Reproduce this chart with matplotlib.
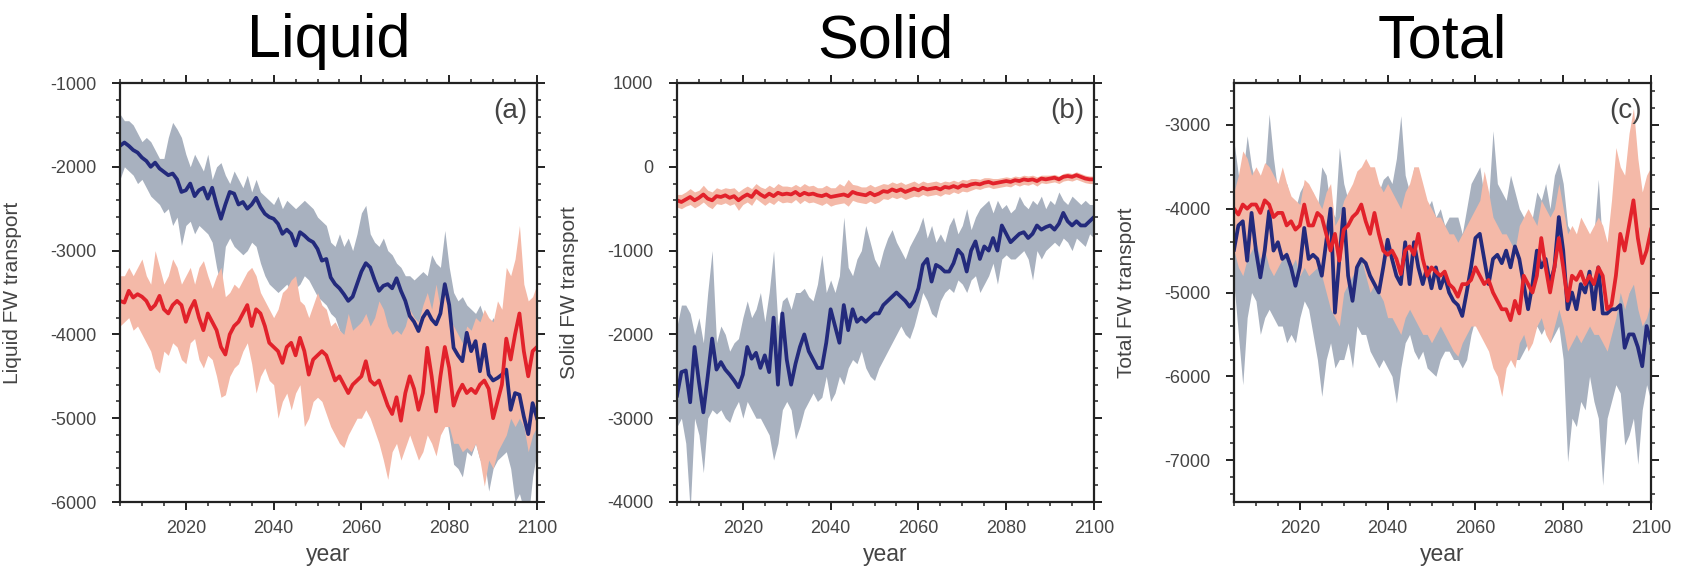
import numpy as np
import matplotlib
matplotlib.use('Agg')
import matplotlib.pyplot as plt
from matplotlib.ticker import MultipleLocator

plt.rcParams['font.family'] = ['Liberation Sans', 'DejaVu Sans']
plt.rcParams['axes.unicode_minus'] = False

# years 2005..2100, one value per year
years = np.arange(2005, 2101)

# ---- (a) Liquid FW transport ----
a_blue_mean = [-1750, -1710, -1750, -1800, -1830,
               -1890, -1930, -2000, -1950, -2020,
               -2060, -2100, -2080, -2150, -2300,
               -2280, -2200, -2350, -2280, -2250,
               -2380, -2250, -2450, -2620, -2450,
               -2300, -2320, -2450, -2420, -2500,
               -2450, -2370, -2480, -2560, -2600,
               -2620, -2680, -2800, -2750, -2800,
               -2940, -2780, -2820, -2870, -2900,
               -2980, -3120, -3100, -3320, -3400,
               -3450, -3520, -3600, -3550, -3400,
               -3250, -3150, -3200, -3350, -3480,
               -3420, -3400, -3450, -3330, -3480,
               -3600, -3780, -3850, -3960, -3800,
               -3720, -3820, -3880, -3750, -3400,
               -3650, -4160, -4250, -4320, -3980,
               -4200, -4080, -4440, -4120, -4480,
               -4550, -4520, -4480, -4420, -4900,
               -4700, -4720, -4980, -5190, -4820,
               -5000]
a_blue_hi = [-1370, -1450, -1450, -1500, -1600,
             -1700, -1650, -1700, -1800, -1900,
             -1900, -1650, -1470, -1550, -1650,
             -1850, -2000, -1850, -1950, -2050,
             -1850, -2150, -2000, -1950, -2100,
             -2200, -2050, -2150, -2250, -2100,
             -2300, -2150, -2300, -2350, -2400,
             -2450, -2350, -2500, -2400, -2450,
             -2500, -2450, -2400, -2450, -2500,
             -2600, -2650, -2700, -2900, -2950,
             -2800, -2950, -2850, -3000, -2800,
             -2550, -2460, -2800, -2900, -2950,
             -2850, -3000, -3050, -3150, -3200,
             -3300, -3300, -3350, -3300, -3250,
             -3300, -3050, -3150, -3200, -2760,
             -3200, -3500, -3600, -3550, -3650,
             -3700, -3750, -3650, -3800, -3900,
             -3800, -3900, -4000, -4100, -4200,
             -4250, -4300, -4200, -4350, -4400,
             -4500]
a_blue_lo = [-2150, -2000, -2050, -2100, -2200,
             -2150, -2250, -2350, -2400, -2450,
             -2550, -2500, -2700, -2600, -2940,
             -2700, -2650, -2800, -2700, -2750,
             -2800, -2900, -3200, -3440, -2950,
             -2850, -2950, -3000, -3050, -3000,
             -2900, -2950, -3150, -3300, -3400,
             -3450, -3500, -3450, -3400, -3500,
             -3450, -3400, -3300, -3350, -3450,
             -3550, -3600, -3650, -3750, -3800,
             -3950, -4040, -4100, -4000, -3950,
             -3850, -3950, -4000, -4150, -4100,
             -4200, -4250, -4300, -4250, -4300,
             -4450, -4500, -4550, -4600, -4700,
             -4550, -4700, -4800, -4900, -4900,
             -5200, -5550, -5600, -5700, -5400,
             -5450, -5300, -5500, -5500, -5870,
             -5600, -5500, -5450, -5400, -5600,
             -6000, -5900, -6100, -6200, -5700,
             -5400]
a_red_mean = [-3600, -3620, -3480, -3560, -3520,
              -3550, -3600, -3700, -3650, -3540,
              -3700, -3750, -3650, -3600, -3650,
              -3850, -3700, -3600, -3800, -3950,
              -3750, -3850, -3950, -4150, -4240,
              -4000, -3900, -3850, -3750, -3650,
              -3900, -3700, -3750, -3900, -4100,
              -4150, -4200, -4340, -4150, -4100,
              -4250, -4040, -4200, -4480, -4300,
              -4250, -4200, -4250, -4400, -4550,
              -4500, -4600, -4700, -4600, -4550,
              -4500, -4320, -4550, -4600, -4550,
              -4700, -4850, -4950, -4750, -5030,
              -4700, -4500, -4650, -4900, -4700,
              -4160, -4500, -4920, -4500, -4150,
              -4400, -4850, -4700, -4600, -4700,
              -4650, -4700, -4600, -4550, -4650,
              -5000, -4800, -4600, -4050, -4300,
              -4000, -3750, -4200, -4500, -4200,
              -4150]
a_red_hi = [-3300, -3300, -3200, -3300, -3200,
            -3100, -3300, -3400, -3000, -3200,
            -3400, -3300, -3100, -3200, -3400,
            -3300, -3200, -3400, -3200, -3120,
            -3300, -3450, -3300, -3200, -3550,
            -3500, -3400, -3450, -3350, -3250,
            -3200, -3300, -3500, -3600, -3700,
            -3800, -3700, -3500, -3450, -3350,
            -3300, -3600, -3650, -3800, -3650,
            -3500, -3650, -3700, -3900, -3850,
            -3950, -4000, -3750, -3950, -3900,
            -3850, -3750, -3900, -3800, -3600,
            -3700, -3900, -4000, -3950, -4000,
            -3900, -3700, -3800, -3850, -3650,
            -3500, -3700, -3400, -3700, -3500,
            -3800, -3900, -4000, -4100, -3900,
            -3950, -3800, -3850, -3700, -3800,
            -3850, -3600, -3700, -3200, -3300,
            -3100, -2700, -3400, -3600, -3550,
            -3400]
a_red_lo = [-3900, -3850, -3800, -3950, -3900,
            -4000, -4100, -4200, -4400, -4460,
            -4200, -4250, -4100, -4150, -4300,
            -4350, -4100, -4050, -4300, -4400,
            -4250, -4300, -4500, -4750, -4720,
            -4500, -4400, -4350, -4200, -4100,
            -4350, -4700, -4500, -4400, -4550,
            -4600, -5000, -4800, -4700, -4900,
            -4700, -4600, -5100, -5000, -4800,
            -4750, -4800, -4950, -5100, -5200,
            -5300, -5350, -5200, -5100, -5000,
            -5000, -4900, -5000, -5150, -5300,
            -5500, -5730, -5400, -5300, -5500,
            -5350, -5200, -5350, -5500, -5400,
            -5200, -5300, -5450, -5200, -5100,
            -5100, -5300, -5300, -5400, -5350,
            -5400, -5300, -5500, -5810, -5500,
            -5600, -5400, -5300, -5200, -5000,
            -5100, -5000, -5100, -5400, -5200,
            -5100]

# ---- (b) Solid FW transport ----
b_blue_mean = [-2730, -2450, -2430, -2810, -2150,
               -2570, -2930, -2500, -2050, -2420,
               -2330, -2420, -2480, -2550, -2630,
               -2480, -2150, -2290, -2220, -2400,
               -2250, -2450, -1800, -2600, -1750,
               -2300, -2600, -2350, -2150, -2000,
               -2200, -2300, -2400, -2400, -2100,
               -1700, -1900, -2100, -1650, -1950,
               -1700, -1850, -1800, -1850, -1800,
               -1750, -1750, -1650, -1600, -1550,
               -1500, -1550, -1600, -1670, -1600,
               -1450, -1170, -1100, -1370, -1170,
               -1200, -1250, -1250, -1150, -990,
               -1050, -1250, -1000, -890, -1100,
               -950, -1000, -850, -1000, -700,
               -800, -900, -850, -800, -780,
               -850, -800, -700, -750, -720,
               -700, -750, -680, -550, -650,
               -700, -650, -700, -700, -650,
               -600]
b_blue_hi = [-1900, -1650, -1650, -1750, -2000,
             -1800, -2100, -1500, -1000, -2100,
             -1900, -2000, -2200, -2100, -2050,
             -1800, -1600, -1800, -1700, -1500,
             -1850, -1500, -1000, -1900, -1600,
             -1550, -1700, -1500, -1500, -1450,
             -1550, -1600, -1400, -1050, -1500,
             -1350, -1500, -1300, -600, -1200,
             -1300, -1100, -1000, -700, -900,
             -1100, -1200, -1000, -850, -750,
             -900, -1000, -1100, -950, -850,
             -750, -600, -850, -700, -900,
             -800, -900, -700, -600, -800,
             -700, -500, -750, -600, -500,
             -450, -400, -550, -400, -500,
             -450, -550, -500, -350, -450,
             -500, -400, -450, -350, -500,
             -400, -450, -300, -400, -450,
             -350, -400, -450, -400, -450,
             -450]
b_blue_lo = [-3100, -3000, -3300, -4100, -3000,
             -3200, -3650, -3000, -2900, -2950,
             -2900, -3000, -3050, -2900, -2800,
             -3000, -2800, -2900, -3000, -3000,
             -3100, -3200, -3500, -3300, -2900,
             -2800, -2900, -3250, -3100, -2900,
             -2800, -2700, -2800, -2750, -2500,
             -2800, -2700, -2500, -2600, -2400,
             -2300, -2350, -2200, -2400, -2500,
             -2550, -2400, -2300, -2200, -2100,
             -2000, -1900, -2000, -2050, -1900,
             -1700, -1500, -1600, -1750, -1800,
             -1600, -1500, -1450, -1500, -1350,
             -1400, -1500, -1350, -1300, -1500,
             -1400, -1300, -1150, -1400, -1100,
             -1050, -1100, -1100, -1050, -1000,
             -1100, -1350, -1000, -1100, -1000,
             -950, -900, -950, -850, -900,
             -1000, -850, -900, -950, -800,
             -850]
b_red_mean = [-400, -420, -390, -360, -400,
              -370, -330, -380, -400, -350,
              -360, -340, -370, -350, -400,
              -360, -330, -360, -290, -330,
              -360, -320, -350, -310, -330,
              -320, -330, -300, -340, -310,
              -330, -320, -340, -350, -330,
              -360, -350, -340, -330, -350,
              -300, -320, -330, -340, -310,
              -340, -320, -290, -300, -270,
              -290, -270, -300, -280, -260,
              -280, -250, -270, -260, -250,
              -270, -240, -250, -230, -250,
              -220, -230, -210, -200, -210,
              -190, -180, -200, -190, -180,
              -170, -180, -160, -170, -150,
              -160, -150, -170, -140, -150,
              -140, -130, -150, -120, -110,
              -120, -100, -120, -140, -150,
              -150]
b_red_hi = [-330, -330, -300, -260, -300,
            -280, -220, -280, -300, -250,
            -270, -250, -260, -250, -300,
            -260, -230, -260, -200, -240,
            -260, -220, -250, -200, -230,
            -230, -240, -210, -240, -200,
            -230, -220, -250, -250, -220,
            -250, -250, -200, -230, -150,
            -210, -220, -240, -240, -210,
            -240, -220, -200, -210, -180,
            -200, -180, -210, -190, -170,
            -200, -170, -190, -180, -170,
            -190, -170, -180, -160, -180,
            -150, -160, -140, -140, -150,
            -130, -130, -140, -140, -130,
            -120, -130, -110, -120, -100,
            -110, -100, -120, -100, -100,
            -100, -90, -110, -80, -70,
            -80, -60, -80, -100, -110,
            -110]
b_red_lo = [-480, -500, -470, -450, -490,
            -460, -420, -470, -500, -440,
            -450, -430, -460, -440, -520,
            -450, -420, -460, -380, -420,
            -460, -420, -450, -400, -430,
            -420, -430, -390, -440, -400,
            -430, -420, -440, -460, -430,
            -470, -450, -440, -430, -470,
            -400, -420, -430, -440, -410,
            -440, -420, -380, -390, -360,
            -380, -360, -390, -370, -350,
            -360, -330, -350, -340, -330,
            -350, -320, -330, -300, -320,
            -290, -300, -280, -260, -270,
            -250, -240, -260, -250, -240,
            -230, -240, -210, -230, -210,
            -220, -200, -230, -190, -200,
            -190, -180, -200, -170, -160,
            -170, -150, -170, -190, -200,
            -200]

# ---- (c) Total FW transport ----
c_blue_mean = [-4490, -4200, -4150, -4620, -4050,
               -4500, -4820, -4500, -4030, -4500,
               -4400, -4600, -4550, -4700, -4920,
               -4700, -4230, -4600, -4550, -4600,
               -4800, -4400, -4000, -5240, -4600,
               -4000, -4800, -5100, -4700, -4600,
               -4650, -4800, -4900, -5000, -4700,
               -4370, -4600, -4800, -4900, -4400,
               -4900, -4400, -4700, -4900, -4700,
               -4950, -4700, -4950, -4800, -5000,
               -5100, -5150, -5280, -5000, -4700,
               -4350, -4300, -4600, -4900, -4600,
               -4550, -4650, -4500, -4700, -4450,
               -4600, -4900, -5200, -4900, -4500,
               -4700, -4600, -4900, -4700, -4100,
               -4500, -5200, -5000, -5200, -4900,
               -5000, -4750, -5200, -4700, -5250,
               -5250, -5200, -5200, -5150, -5660,
               -5500, -5500, -5650, -5880, -5400,
               -5600]
c_blue_hi = [-3200, -3600, -3600, -3130, -3500,
             -3700, -3800, -3600, -2870, -3400,
             -3800, -3800, -3700, -3900, -4000,
             -3800, -3700, -3900, -3800, -4000,
             -3500, -3600, -4000, -4100, -3270,
             -3700, -3900, -4000, -3800, -3700,
             -3700, -3600, -3900, -3800, -3650,
             -3600, -3700, -3400, -2890, -3600,
             -3800, -3500, -3600, -3900, -4000,
             -3900, -4100, -4000, -4200, -4100,
             -4100, -4100, -4300, -4000, -3700,
             -3600, -3500, -3850, -3900, -3070,
             -3700, -3800, -3900, -3600, -3800,
             -4000, -4100, -4300, -4100, -3800,
             -3900, -3700, -4000, -3600, -3450,
             -3700, -4200, -4300, -4400, -4300,
             -4200, -4500, -4300, -3650, -4500,
             -4700, -4600, -4500, -4700, -4900,
             -5000, -4800, -4900, -4900, -5000,
             -5100]
c_blue_lo = [-4900, -5500, -6100, -5300, -5000,
             -5100, -5500, -5300, -5200, -5300,
             -5400, -5400, -5600, -5500, -5600,
             -5300, -5100, -5200, -5500, -5800,
             -6240, -5800, -5600, -5900, -5800,
             -5800, -5600, -5900, -5400, -5500,
             -5500, -5700, -5800, -5900, -5800,
             -5900, -6000, -6320, -5900, -5600,
             -5500, -5700, -5800, -5700, -5900,
             -5950, -6000, -5800, -5700, -5700,
             -5800, -5800, -5900, -5800, -5500,
             -5300, -5200, -5400, -5600, -5500,
             -5600, -5800, -5700, -5700, -5800,
             -5800, -5700, -5600, -5500, -5400,
             -5500, -5400, -5600, -5500, -5400,
             -5800, -7020, -6500, -6600, -6300,
             -6400, -6000, -6300, -6500, -7300,
             -6500, -6300, -6100, -6200, -6820,
             -6700, -6500, -7050, -6400, -6100,
             -6300]
c_red_mean = [-4000, -4070, -3950, -4000, -3950,
              -3950, -4050, -3900, -3950, -4100,
              -4050, -4050, -4200, -4150, -4250,
              -4200, -3950, -4200, -4200, -4050,
              -4100, -4300, -4500, -4300, -4620,
              -4250, -4200, -4100, -4050, -3950,
              -4150, -4300, -4050, -4300, -4500,
              -4550, -4500, -4600, -4780, -4500,
              -4450, -4550, -4300, -4600, -4800,
              -4700, -4750, -4800, -4750, -4900,
              -4950, -5050, -4900, -4900, -4850,
              -4700, -4800, -4900, -4850, -5000,
              -5100, -5200, -5200, -5330, -5100,
              -5250, -4800, -4900, -5000, -4800,
              -4350, -4700, -5000, -4700, -4350,
              -4700, -5100, -4800, -4850, -4750,
              -4900, -4800, -4900, -4700, -4800,
              -5200, -5150, -4800, -4300, -4500,
              -4200, -3900, -4350, -4650, -4500,
              -4250]
c_red_hi = [-3800, -3600, -3310, -3400, -3600,
            -3500, -3600, -3450, -3500, -3600,
            -3700, -3500, -3700, -3850, -3900,
            -3950, -3650, -3700, -3800, -3900,
            -4000, -3800, -3700, -4200, -4100,
            -3900, -3800, -3700, -3550, -3500,
            -3400, -3500, -3500, -3700, -3800,
            -3700, -3800, -3900, -4000, -3800,
            -3700, -3500, -3500, -3700, -3900,
            -4000, -4100, -4100, -4200, -4300,
            -4300, -4400, -4300, -4200, -4100,
            -4000, -3900, -3550, -3800, -4100,
            -4200, -4300, -4300, -4400, -4500,
            -4200, -4100, -4000, -4100, -4200,
            -3900, -4000, -4100, -4000, -3700,
            -4000, -4300, -4200, -4300, -4100,
            -4200, -4300, -4200, -4100, -4200,
            -4400, -3900, -3270, -3500, -3600,
            -3100, -2800, -3400, -3800, -3600,
            -3500]
c_red_lo = [-4500, -4700, -4800, -4600, -4500,
            -4400, -4600, -4500, -4700, -4800,
            -4700, -4600, -4500, -4700, -4600,
            -4800, -4700, -4800, -4750, -4700,
            -4800, -5000, -5200, -5300, -5400,
            -5000, -4900, -4800, -4700, -4600,
            -4800, -5000, -4900, -5000, -5100,
            -5300, -5300, -5400, -5500, -5300,
            -5200, -5300, -5400, -5500, -5500,
            -5600, -5500, -5400, -5500, -5600,
            -5700, -5760, -5600, -5500, -5400,
            -5400, -5500, -5600, -5700, -5900,
            -6000, -6240, -5900, -5800, -5900,
            -5600, -5500, -5700, -5600, -5400,
            -5300, -5500, -5600, -5400, -5200,
            -5400, -5700, -5600, -5500, -5600,
            -5500, -5400, -5500, -5500, -5600,
            -5700, -5500, -5300, -5000, -5200,
            -5000, -4900, -5200, -5400, -5300,
            -5100]

titles = ['Liquid', 'Solid', 'Total']
panel_tags = ['(a)', '(b)', '(c)']
ylabels = ['Liquid FW transport', 'Solid FW transport', 'Total FW transport']
ylims = [(-6000, -1000), (-4000, 1000), (-7500, -2500)]

blue_line = '#232a7c'
blue_band = '#a8b1bf'
red_line = '#e2222b'
red_band = '#f4b9a8'
txt = '#444444'

panels = [
    (a_blue_mean, a_blue_lo, a_blue_hi, a_red_mean, a_red_lo, a_red_hi),
    (b_blue_mean, b_blue_lo, b_blue_hi, b_red_mean, b_red_lo, b_red_hi),
    (c_blue_mean, c_blue_lo, c_blue_hi, c_red_mean, c_red_lo, c_red_hi),
]

fig = plt.figure(figsize=(16.84, 5.75), dpi=100)
lefts = [120, 677, 1234]

for i, (bm, blo, bhi, rm, rlo, rhi) in enumerate(panels):
    ax = fig.add_axes([lefts[i] / 1684, 73 / 575, 417 / 1684, 419 / 575])
    ax.fill_between(years, blo, bhi, color=blue_band, lw=0)
    ax.fill_between(years, rlo, rhi, color=red_band, lw=0)
    ax.plot(years, bm, color=blue_line, lw=2.7, solid_joinstyle='round')
    ax.plot(years, rm, color=red_line, lw=2.7, solid_joinstyle='round')

    ax.set_xlim(2005, 2100)
    ax.set_ylim(*ylims[i])
    ax.xaxis.set_major_locator(MultipleLocator(20))
    ax.xaxis.set_minor_locator(MultipleLocator(5))
    ax.yaxis.set_major_locator(MultipleLocator(1000))
    ax.yaxis.set_minor_locator(MultipleLocator(200))
    ax.tick_params(which='both', direction='out', top=True, right=True,
                   colors='#222222', labelcolor=txt, labelsize=13)
    ax.tick_params(which='major', length=6, width=1.4)
    ax.tick_params(which='minor', length=3, width=1.1)
    ax.tick_params(axis='x', pad=7)
    ax.tick_params(axis='y', pad=11)
    ax.set_xticks([2020, 2040, 2060, 2080, 2100])
    for sp in ax.spines.values():
        sp.set_linewidth(1.6)
        sp.set_color('#222222')

    ax.set_xlabel('year', fontsize=16.5, color=txt, labelpad=4)
    ax.set_ylabel(ylabels[i], fontsize=15, color=txt)
    ax.yaxis.set_label_coords(-0.235, 0.5)
    ax.text(0.978, 0.965, panel_tags[i], transform=ax.transAxes,
            ha='right', va='top', fontsize=20, color=txt)
    fig.text((lefts[i] + 208.5) / 1684, 1 - 57 / 575, titles[i],
             ha='center', va='baseline', fontsize=44, color='black')

fig.savefig('out.png', dpi=100)
